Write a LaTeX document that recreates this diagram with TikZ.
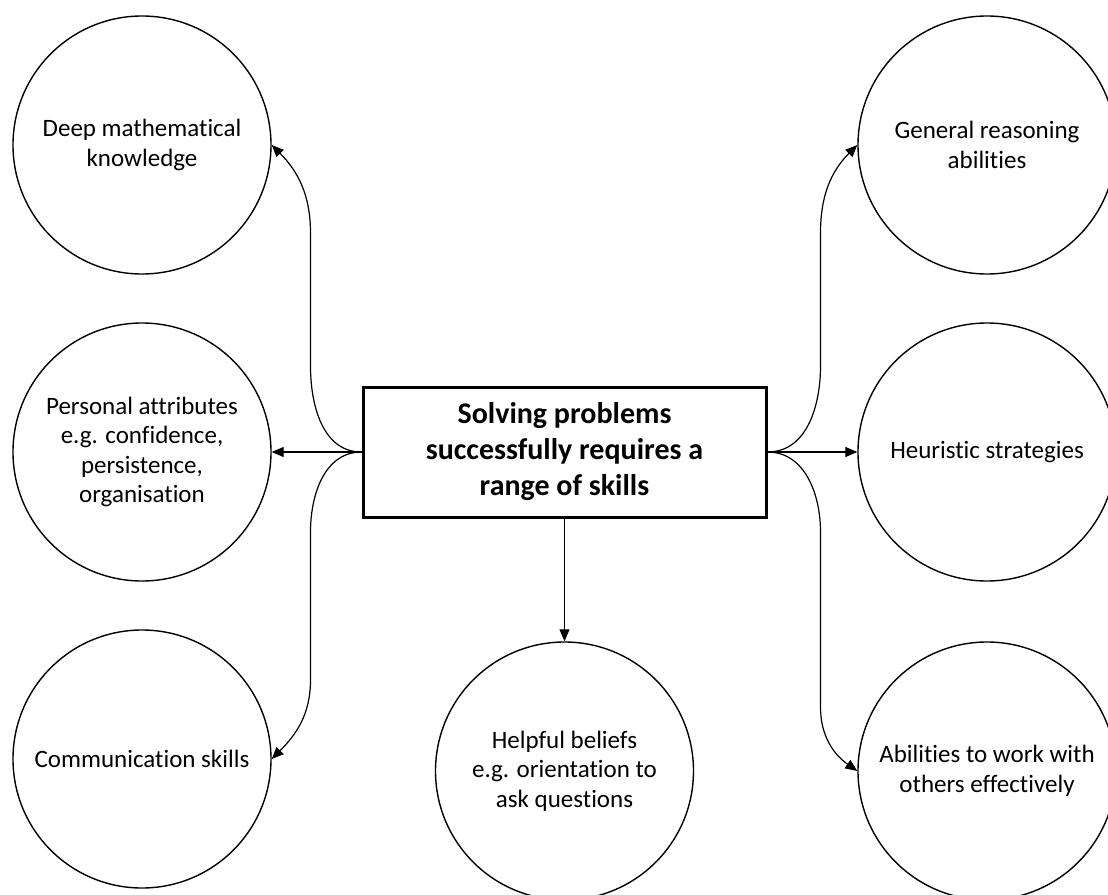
\documentclass[tikz,border=0pt]{standalone}
\usepackage{fontspec}
\setmainfont{Carlito}[Ligatures={NoCommon,NoRare,NoContextual},RawFeature={-liga;-clig;-dlig;-calt}]
\usetikzlibrary{arrows.meta}
\begin{document}
\begin{tikzpicture}[x=1pt,y=1pt,
  skill/.style={circle,draw,line width=1.4pt,minimum size=258pt,inner sep=0pt,
    align=center,font=\fontsize{25}{29.5}\selectfont},
  hub/.style={rectangle,draw,line width=3pt,minimum width=403pt,minimum height=130pt,
    inner sep=0pt,align=center,font=\bfseries\fontsize{30}{36}\selectfont},
  link/.style={line width=1.2pt,-{Triangle[length=12pt,width=10pt]}}]
\useasboundingbox (0,0) rectangle (1108,-894);

% central box
\node[hub] (hub) at (564.5,-452) {Solving problems\\successfully requires a\\range of skills};

% skills on the left
\node[skill] (dmk) at (142,-145) {Deep mathematical\\knowledge};
\node[skill] (pa)  at (142,-452) {Personal attributes\\e.g. confidence,\\persistence,\\organisation};
\node[skill] (com) at (142,-759) {Communication skills};

% skills on the right
\node[skill] (gra) at (987,-145) {General reasoning\\abilities};
\node[skill] (heu) at (987,-452) {Heuristic strategies};
\node[skill] (abw) at (987,-771) {Abilities to work with\\others effectively};

% skill below
\node[skill] (hb)  at (564.5,-771) {Helpful beliefs\\e.g. orientation to\\ask questions};

% connectors
\draw[link] (hub.west) to[out=180,in=-90] ++(-51,86) -- ++(0,133)
  to[out=90,in=-45] (dmk.east);
\draw[link] (hub.west) -- (pa.east);
\draw[link] (hub.west) to[out=180,in=90] ++(-51,-80) -- ++(0,-148)
  to[out=-90,in=45] (com.east);

\draw[link] (hub.east) to[out=0,in=-90] ++(53,86) -- ++(0,133)
  to[out=90,in=-135] (gra.west);
\draw[link] (hub.east) -- (heu.west);
\draw[link] (hub.east) to[out=0,in=90] ++(53,-80) -- ++(0,-175)
  to[out=-90,in=145] (abw.west);

\draw[link] (hub.south) -- (hb.north);
\end{tikzpicture}
\end{document}
